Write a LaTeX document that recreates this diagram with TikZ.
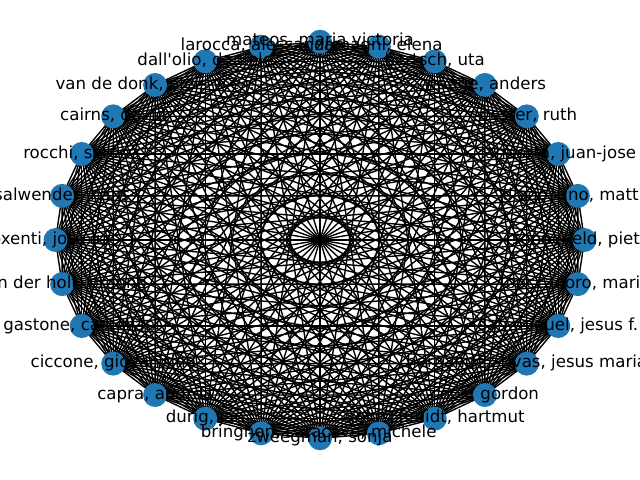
\documentclass[tikz,border=0pt]{standalone}
\usepackage{fontspec}
\setmainfont{DejaVu Sans}
\usetikzlibrary{backgrounds}
\definecolor{nodeblue}{HTML}{1F77B4}
\tikzset{
  vert/.style={circle, fill=nodeblue, draw=none, minimum size=17.32pt, inner sep=0pt},
  edgeline/.style={draw=black, line width=1pt},
  lab/.style={font=\fontsize{12}{14}\selectfont, text=black, inner sep=0pt, text height=9pt, text depth=2.8pt}
}
\begin{document}
\begin{tikzpicture}[x=0.01in, y=-0.01in]
\useasboundingbox (0,0) rectangle (640,480);
\foreach \k in {0,...,27}{
  \node[vert] (v\k) at ({320+264.5*cos(360*\k/28)}, {240-198.3*sin(360*\k/28)}) {};
}
\begin{pgfonlayer}{background}
\foreach \i in {0,...,26}{
  \pgfmathtruncatemacro{\ii}{\i+1}
  \foreach \j in {\ii,...,27}{
    \draw[edgeline] (v\i.center) -- (v\j.center);
  }
}
\end{pgfonlayer}
\foreach \k/\t in {
  0/{sonneveld, pieter},
  1/{d\textquotesingle agostino, mattia},
  2/{lahuerta, juan-jose},
  3/{wester, ruth},
  4/{waage, anders},
  5/{bertsch, uta},
  6/{zamagni, elena},
  7/{mateos, maria victoria},
  8/{larocca, alessandra},
  9/{dall\textquotesingle olio, daniele},
  10/{van de donk, niels w.c.j.},
  11/{cairns, david},
  12/{rocchi, serena},
  13/{salwender, hans},
  14/{oxenti, jose luis},
  15/{van der holt, bronno},
  16/{gastone, castellani},
  17/{ciccone, giovannino},
  18/{capra, andrea},
  19/{durig, jan},
  20/{bringhen, sara},
  21/{zweegman, sonja},
  22/{cavo, michele},
  23/{goldschmidt, hartmut},
  24/{cook, gordon},
  25/{hernandez-rivas, jesus maria},
  26/{san miguel, jesus f.},
  27/{boccadoro, mario}}{
  \node[lab] (l\k) at (v\k.center) {\t};
}
\end{tikzpicture}
\end{document}
